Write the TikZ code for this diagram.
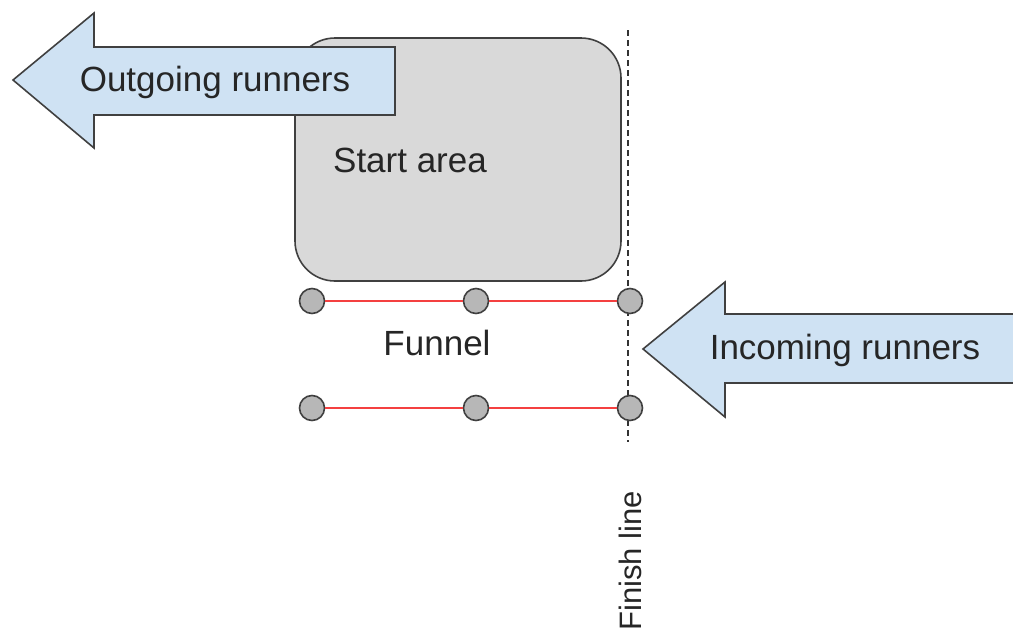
\documentclass[tikz,border=0pt]{standalone}
\usepackage{fontspec}
\setmainfont{Liberation Sans}
\begin{document}
\begin{tikzpicture}[x=1pt,y=-1pt,
  label/.style={font=\fontsize{35}{40}\selectfont, text=black!85, inner sep=0pt},
  bigarrow/.style={draw=black!75, fill=arrowblue, line width=1.6pt, line join=miter},
  post/.style={circle, draw=black!75, fill=postgray, line width=1.6pt, minimum size=25pt, inner sep=0pt},
  rope/.style={draw=ropered, line width=1.8pt}]
\definecolor{arrowblue}{HTML}{CFE2F3}
\definecolor{boxgray}{HTML}{D9D9D9}
\definecolor{postgray}{HTML}{B7B7B7}
\definecolor{ropered}{HTML}{F44040}
\useasboundingbox (0,0) rectangle (1013,630);

% start area
\draw[draw=black!75, fill=boxgray, line width=1.6pt, rounded corners=40pt]
  (295,38) rectangle (621,281);
\node[label] (start) at (410,160) {Start area};

% outgoing arrow (drawn over the start area)
\draw[bigarrow] (13,80) -- (94,13) -- (94,47) -- (395,47) -- (395,115) -- (94,115) -- (94,148) -- cycle;
\node[label] (out) at (215,82) {Outgoing runners};

% finish line
\coordinate (fltop) at (628,30);
\coordinate (flbot) at (628,442);
\draw[black!80, line width=1.3pt, dash pattern=on 6pt off 4pt] (fltop) -- (flbot);
\node[label, font=\fontsize{31}{36}\selectfont, rotate=90, anchor=east] (finish) at (630,491) {Finish line};

% funnel posts and ropes
\node[post] (a1) at (312,301) {};
\node[post] (a2) at (476,301) {};
\node[post] (a3) at (630,301) {};
\node[post] (b1) at (312,408) {};
\node[post] (b2) at (476,408) {};
\node[post] (b3) at (630,408) {};
\draw[rope] (a1) -- (a2);
\draw[rope] (a2) -- (a3);
\draw[rope] (b1) -- (b2);
\draw[rope] (b2) -- (b3);
\node[label] (funnel) at (437,343) {Funnel};

% incoming arrow
\draw[bigarrow] (643,349) -- (725,282) -- (725,314) -- (1030,314) -- (1030,383) -- (725,383) -- (725,417) -- cycle;
\node[label] (in) at (845,350) {Incoming runners};
\end{tikzpicture}
\end{document}
